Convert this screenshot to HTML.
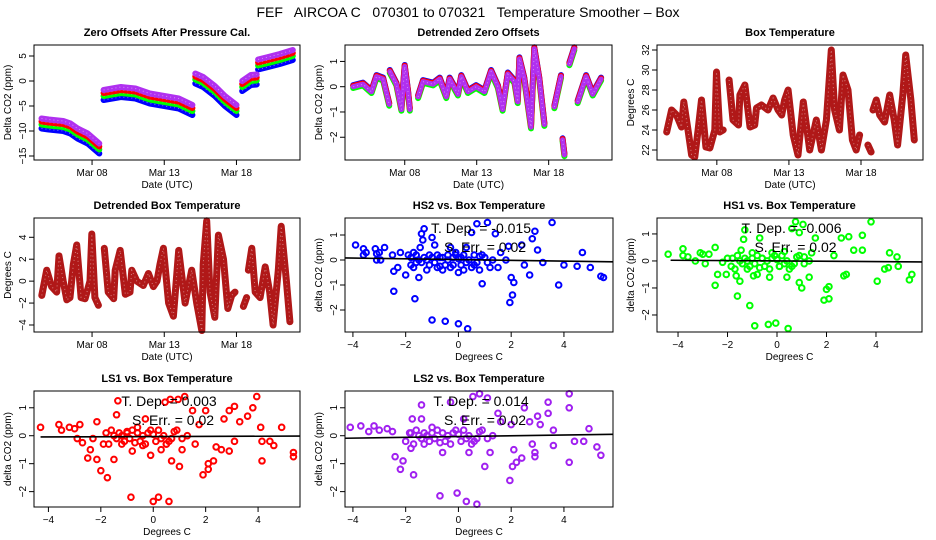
<!DOCTYPE html>
<html><head><meta charset="utf-8">
<style>
html,body{margin:0;padding:0;background:#fff;}
svg{display:block;font-family:"Liberation Sans",Arial,sans-serif;}
</style></head>
<body>
<svg id="chart" width="936" height="540" viewBox="0 0 936 540" xmlns="http://www.w3.org/2000/svg">
<text x="468" y="17" text-anchor="middle" font-size="14" style="white-space:pre">FEF   AIRCOA C   070301 to 070321   Temperature Smoother – Box</text>
</svg>
<script>
// ---------- time-series data ----------
const zeroDays = [4.5,5.0,6.0,6.5,7.0,7.7,8.5,null,8.8,10.0,11.0,12.0,13.0,14.0,14.95,null,15.15,15.7,16.5,17.2,18.0,null,18.4,19.0,19.4,null,19.5,20.2,21.0,21.9];
const zeroMagenta = [-7.5,-7.7,-8.0,-8.5,-9.5,-10.5,-12.5,null,-1.8,-1.2,-1.5,-2.5,-3.0,-3.5,-4.8,null,1.5,0.8,-1.0,-3.0,-4.8,null,0.0,1.2,1.3,null,4.3,4.8,5.4,6.2];
const zeroOffsetRed = [-0.6];
const zeroOffsetGreen = [-1.2];
const zeroOffsetBlue = [-2.0];

const detDays = [4.42,5.1,5.69,6.04,6.5,6.92,null,6.96,7.42,7.77,8.0,8.23,8.35,null,8.93,9.27,9.97,10.43,10.89,11.12,11.7,11.93,12.39,12.96,13.54,14.0,14.47,14.8,15.16,15.62,15.85,15.97,16.31,16.77,17.0,17.35,17.7,null,18.4,18.86,null,18.97,19.09,null,19.44,19.78,null,20.02,20.6,21.06,21.64];
const detVals = [0,0.1,-0.2,0.4,0.3,-0.7,null,0.6,0.1,-0.9,0.8,-0.2,-0.9,null,-0.4,0.2,0.1,0.3,-0.4,0.3,-0.3,0.4,-0.2,0,-0.2,0.6,0,-0.9,0.5,0.2,-0.6,1.1,0.3,-1.6,1.5,0.3,-1.5,null,-0.8,0.4,null,-2.1,-2.7,null,0.9,1.5,null,-0.6,0.4,-0.3,0.3];
const detOffsets = [0.06,-0.05,0.03,0];

const tempDays = [4.52,4.86,5.2,5.55,5.71,6.0,6.25,6.47,6.7,6.94,7.24,7.52,7.86,7.98,8.2,8.44,null,8.85,9.12,9.5,9.6,9.95,10.3,10.63,10.75,11.1,11.55,11.9,12.25,12.5,12.7,12.94,13.3,13.63,14.0,14.44,14.9,15.25,15.6,15.7,15.94,16.17,16.5,16.75,17.1,17.4,17.67,17.9,null,18.48,18.7,null,18.83,19.06,19.3,19.64,19.99,20.3,20.54,20.9,21.1,21.46,21.7];
const tempVals = [23.8,26,25.5,24.3,26.8,24,21.5,21.3,24,27,22.3,22.2,24,29.8,23.8,24,null,29,25,24.5,27.5,28.5,24.3,24.5,26.2,26.5,26,27.2,26,25.5,27,28,23.5,21.5,26.8,22,25,22,25,27,32,26,24,29.5,28,23,22,23.5,null,22.5,21.8,null,26,27,25.5,24.8,27.5,25,22.5,27.5,31.5,27,23];
const dtempDays = [4.52,4.86,5.2,5.55,5.71,6.0,6.25,6.47,6.7,6.94,7.24,7.52,7.86,7.98,8.2,8.44,null,8.85,9.12,9.5,9.6,9.95,10.3,10.63,10.75,11.1,11.55,11.9,12.25,12.5,12.7,12.94,13.3,13.63,14.0,14.44,14.9,15.25,15.6,15.7,15.94,16.17,16.5,16.75,17.1,17.4,17.67,17.9,null,18.48,18.7,null,18.83,19.06,19.3,19.64,19.99,20.3,20.54,20.9,21.1,21.46,21.7];
const dtempVals = [-1.3,1,-0.5,-1,2.3,0,-1.7,-1.5,1.5,3.3,-1.5,-1.6,0,4.3,-1.5,-2.2,null,3,-1,-1.6,1,2.8,-1.2,-1,1,0,-0.4,0.7,-0.5,0,1.5,3,-2,-3.2,2.8,-2,1,-2,-4.5,1.5,5.5,-1,-3.3,4.2,2,-2.5,-1.3,-1,null,-2.3,-1.5,null,1,3,-1,-1.5,1.3,-1,-4,1,5,0,-3.7];

const dateTicks = [8,13,18];
const dateLabels = ['Mar 08','Mar 13','Mar 18'];

// ---------- scatter data ----------
const clusterX = [-1.8,-1.7,-1.6,-1.5,-1.3,-1.2,-1.1,-0.9,-0.8,-0.6,-0.5,-0.4,-0.3,-0.2,-0.1,0.1,0.2,0.4,0.5,0.6,0.7,0.9,1.1,1.3,-1.4,-1.0,-0.7,0.0,0.3,0.8];
const clusterY = [0.1,-0.3,0.2,0.0,0.1,0.0,-0.2,-0.1,0.2,0.1,-0.2,0.0,-0.3,0.1,0.2,-0.2,0.2,0.0,-0.3,-0.2,-0.1,0.2,-0.1,0.0,-0.1,0.1,-0.25,0.05,-0.1,0.15];

const hs2X = [-3.9,-3.6,-3.6,-3.5,-3.15,-3.1,-3.1,-3.0,-2.95,-2.8,-2.5,-2.45,-2.45,-2.3,-2.2,-2.0,-1.9,-1.8,-1.7,-1.65,-1.6,-1.5,-1.45,-1.4,-1.35,-1.3,-1.2,-1.1,-1.0,-1.0,-0.9,-0.8,-0.7,-0.6,-0.5,-0.4,-0.3,-0.2,-0.1,0.0,0.0,0.1,0.2,0.3,0.35,0.5,0.6,0.7,0.8,0.9,1.0,1.1,1.2,1.4,1.5,1.6,1.8,1.9,1.95,2.0,2.05,2.1,2.4,2.5,2.7,2.8,2.9,3.0,3.2,3.55,3.8,4.0,4.5,4.7,5.0,5.4,5.5];
const hs2Y = [0.6,0.45,0.2,0.3,0.45,0.25,0.0,0.3,0.0,0.5,0.2,-0.45,-1.25,-0.3,0.3,-0.6,0.2,-0.2,0.3,-1.55,-0.1,-0.7,0.5,1.05,0.8,1.25,-0.4,0.2,0.9,-2.4,0.6,-0.3,0.1,-0.4,-2.45,0.2,0.5,-0.2,0.3,-0.5,-2.55,0.1,-0.4,0.5,-2.75,1.1,0.2,1.45,-0.4,-0.95,0.1,1.5,-0.3,1.05,-0.3,0.3,0,0.55,-1.7,-0.7,-1.4,-0.9,0.6,-0.2,-0.6,0.85,1.15,0.4,-0.1,1.5,-1.0,-0.2,-0.25,0.3,-0.3,-0.65,-0.7];

const hs1X = [-4.4,-3.8,-3.8,-3.6,-3.3,-3.1,-3.0,-2.9,-2.75,-2.5,-2.5,-2.4,-2.2,-2.05,-2.0,-1.85,-1.65,-1.6,-1.5,-1.45,-1.35,-1.3,-1.2,-1.1,-1.0,-0.95,-0.9,-0.8,-0.7,-0.6,-0.35,-0.3,-0.2,-0.05,0.1,0.3,0.4,0.45,0.6,0.75,0.9,0.9,1.0,1.05,1.1,1.3,1.4,1.55,1.9,2.0,2.1,2.1,2.3,2.6,2.7,2.8,2.9,3.1,3.45,3.45,3.8,4.05,4.35,4.5,4.55,4.85,4.9,5.35,5.45];
const hs1Y = [0.25,0.45,0.2,0.15,0.0,0.3,0.25,-0.1,0.25,0.5,-0.9,-0.5,-0.05,-0.5,0.1,-0.2,-0.55,-1.3,-0.75,0.4,0.8,1.15,-0.3,-1.65,0.3,-0.55,-2.4,-0.5,0.85,0.1,-2.35,-0.6,0.3,-2.3,-0.2,0.35,-0.6,-2.5,1.2,1.45,1.05,-0.8,-1.0,1.35,0.15,-0.6,0.3,0.85,-1.45,-1.05,-1.4,-0.95,0.2,0.85,-0.55,-0.5,0.9,0.4,0.95,0.4,1.45,-0.75,-0.3,-0.25,0.3,0.15,-0.2,-0.7,-0.5];

const ls1X = [-4.3,-3.6,-3.5,-3.2,-3.0,-2.9,-2.8,-2.7,-2.5,-2.4,-2.3,-2.15,-2.15,-2.0,-1.9,-1.75,-1.5,-1.4,-1.35,-1.2,-1.0,-0.85,-0.8,-0.6,-0.4,-0.3,-0.1,0.0,0.2,0.3,0.45,0.5,0.6,0.65,0.7,0.95,1.0,1.2,1.1,1.5,1.6,1.75,1.9,2.0,2.1,2.1,2.3,2.4,2.6,2.7,2.9,2.9,3.1,3.1,3.3,3.6,3.8,3.95,4.1,4.15,4.15,4.45,4.6,4.9,5.35,5.35];
const ls1Y = [0.3,0.4,0.2,0.3,0.25,-0.1,0.4,-0.25,-0.8,-0.5,-0.1,0.5,-0.85,-1.25,-0.3,-1.5,-0.85,0.75,1.25,-0.3,0.15,-2.2,-0.55,0.3,-0.35,0.6,-0.7,-2.35,-2.2,-0.5,1.2,-0.3,-2.35,1.3,-0.9,1.3,-1.1,1.4,-0.5,0.9,-0.3,0.4,-1.4,0.9,-1.0,-1.2,-0.9,-0.4,-0.5,0.6,-0.55,0.9,1.05,-0.2,0.5,0.7,1.0,1.4,0.3,-0.2,-0.9,-0.2,-0.35,0.3,-0.6,-0.75];

const ls2X = [-4.1,-3.7,-3.4,-3.2,-3.0,-2.7,-2.5,-2.4,-2.2,-2.1,-2.0,-1.85,-1.8,-1.75,-1.7,-1.4,-1.4,-1.3,-1.0,-0.7,-0.6,-0.3,-0.05,0.2,0.3,0.4,0.55,0.7,0.8,1.0,1.1,1.2,1.5,1.6,1.95,2.0,2.05,2.1,2.2,2.4,2.5,2.7,2.8,2.9,2.9,3.0,3.1,3.4,3.4,3.6,3.6,4.2,4.2,4.2,4.4,4.75,4.95,5.25,5.4];
const ls2Y = [0.3,0.35,0.15,0.35,0.2,0.25,0.15,-0.75,-1.2,-0.9,-0.2,0.1,-0.45,0.6,-1.4,1.1,0.6,-0.3,0.3,-2.15,-0.6,1.2,-2.05,0.6,-2.35,-0.6,1.4,-2.45,1.5,-1.1,1.35,-0.6,0.8,0.5,-1.6,0.4,-1.1,-0.5,-0.95,-0.8,1.0,0.5,-0.3,-0.6,-0.75,0.7,0.4,1.2,0.8,0.2,-0.35,1.5,1.0,-0.95,-0.2,-0.2,0.25,-0.4,-0.7];

const slopes = [-0.015,-0.006,0.003,0.014];
const intercepts = [0.017,0.0,-0.03,-0.03];
const depLabels = ['T. Dep. = -0.015','T. Dep. = -0.006','T. Dep. = 0.003','T. Dep. = 0.014'];
const errLabels = ['S. Err. = 0.02','S. Err. = 0.02','S. Err. = 0.02','S. Err. = 0.02'];

// ---------- drawing ----------
const NS='http://www.w3.org/2000/svg';
const svg=document.getElementById('chart');
function mk(tag,attrs,parent){const e=document.createElementNS(NS,tag);for(const k in attrs)e.setAttribute(k,attrs[k]);(parent||svg).appendChild(e);return e;}

function makePanel(name,box,xd,yd,title,xlab,ylab){
  const g=mk('g',{});
  
  
  const sx=v=>box[0]+(v-xd[0])/(xd[1]-xd[0])*(box[2]-box[0]);
  const sy=v=>box[3]-(v-yd[0])/(yd[1]-yd[0])*(box[3]-box[1]);
  const t=mk('text',{x:(box[0]+box[2])/2,y:box[1]-9,'text-anchor':'middle','font-size':'11','font-weight':'bold'},g);
  t.textContent=title;
  
  
  const xl=mk('text',{x:(box[0]+box[2])/2,y:box[3]+28,'text-anchor':'middle','font-size':'10'},g);
  xl.textContent=xlab;
  
  
  const cy=(box[1]+box[3])/2;
  const yl=mk('text',{x:box[0]-23,y:cy,'text-anchor':'middle','font-size':'10',transform:`rotate(-90 ${box[0]-23} ${cy})`},g);
  yl.textContent=ylab;
  
  
  const plot=mk('g',{},g);
  
  
  return {g,plot,sx,sy,box};
}
function frame(P){
  const r=mk('rect',{x:P.box[0],y:P.box[1],width:P.box[2]-P.box[0],height:P.box[3]-P.box[1],fill:'none',stroke:'#000','stroke-width':1},P.g);
  
  
}
function xAxis(P,vals,labels){
  vals.forEach((v,i)=>{const x=P.sx(v);
    mk('line',{x1:x,x2:x,y1:P.box[3],y2:P.box[3]+5,stroke:'#000'},P.g);
    const t=mk('text',{x:x,y:P.box[3]+16,'text-anchor':'middle','font-size':'10'},P.g);
    t.textContent=labels[i];
    
    });
}
function yAxis(P,vals){
  vals.forEach(v=>{const y=P.sy(v);
    mk('line',{x1:P.box[0]-5,x2:P.box[0],y1:y,y2:y,stroke:'#000'},P.g);
    const lx=P.box[0]-8;
    const t=mk('text',{x:lx,y:y,'text-anchor':'middle','font-size':'10',transform:`rotate(-90 ${lx} ${y})`},P.g);
    t.textContent=String(v).replace('-','\u2212');
    
    });
}
function series(P,days,vals,off,color,width,name){
  let d='';let pen=false;
  for(let i=0;i<days.length;i++){
    if(days[i]===null||vals[i]===null){pen=false;continue;}
    d+=(pen?'L':'M')+P.sx(days[i]).toFixed(1)+' '+P.sy(vals[i]+off).toFixed(1);pen=true;
  }
  const p=mk('path',{d:d,fill:'none',stroke:color,'stroke-width':width,'stroke-linejoin':'round','stroke-linecap':'round'},P.plot);
  
  
  const p2=mk('path',{d:d,fill:'none',stroke:'#fff','stroke-width':1,'stroke-dasharray':'1 3','stroke-opacity':0.45},P.plot);
  
  
}
function scatter(P,xs,ys,color,idx,name){
  const all=[...xs.map((x,i)=>[x,ys[i]]),...clusterX.map((x,i)=>[x,clusterY[i]])];
  all.forEach(([x,y])=>{
    const c=mk('circle',{cx:P.sx(x),cy:P.sy(y),r:2.8,fill:'none',stroke:color,'stroke-width':2},P.plot);
    
    
  });
  const x0=P.sx(-4.3),x1=P.box[2];
  const xv1=-4.3+(x1-x0)/(P.sx(1)-P.sx(0));
  const l=mk('line',{x1:x0,y1:P.sy(intercepts[idx]+slopes[idx]*-4.3),x2:x1,y2:P.sy(intercepts[idx]+slopes[idx]*xv1),stroke:'#000','stroke-width':1.6},P.plot);
  
  
  const cx=(P.box[0]+P.box[2])/2+2;
  const t1=mk('text',{x:cx,y:P.box[1]+15,'text-anchor':'middle','font-size':'14'},P.g);
  t1.textContent=depLabels[idx];
  
  
  const t2=mk('text',{x:cx+4,y:P.box[1]+34,'text-anchor':'middle','font-size':'14'},P.g);
  t2.textContent=errLabels[idx];
  
  
}

// Panel 1
let P=makePanel('zero-offsets-panel',[34,45,300,160],[3.98,22.4],[-15.8,7.2],'Zero Offsets After Pressure Cal.','Date (UTC)','Delta CO2 (ppm)');
series(P,zeroDays,zeroMagenta,zeroOffsetBlue[0],'#0000ff',6,'hs2-series');
series(P,zeroDays,zeroMagenta,zeroOffsetGreen[0],'#00ff00',6,'hs1-series');
series(P,zeroDays,zeroMagenta,zeroOffsetRed[0],'#ff0000',6,'ls1-series');
series(P,zeroDays,zeroMagenta,0,'#b030f0',6,'ls2-series');
frame(P);xAxis(P,dateTicks,dateLabels);yAxis(P,[5,0,-5,-10,-15]);

// Panel 2
P=makePanel('detrended-zero-panel',[345,45,612,160],[3.85,22.4],[-2.9,1.65],'Detrended Zero Offsets','Date (UTC)','Delta CO2 (ppm)');
series(P,detDays,detVals,detOffsets[0],'#0000ff',6,'hs2-series');
series(P,detDays,detVals,detOffsets[1],'#00ff00',6,'hs1-series');
series(P,detDays,detVals,detOffsets[2],'#ff0000',6,'ls1-series');
series(P,detDays,detVals,detOffsets[3],'#b030f0',5,'ls2-series');
frame(P);xAxis(P,dateTicks,dateLabels);yAxis(P,[1,0,-1,-2]);

// Panel 3
P=makePanel('box-temperature-panel',[657,45,923,160],[3.85,22.3],[21,32.5],'Box Temperature','Date (UTC)','Degrees C');
series(P,tempDays,tempVals,0,'#b01818',7,'box-temp-series');
frame(P);xAxis(P,dateTicks,dateLabels);yAxis(P,[22,24,26,28,30,32]);

// Panel 4
P=makePanel('detrended-box-temp-panel',[34,218,300,332],[3.98,22.4],[-4.64,5.76],'Detrended Box Temperature','Date (UTC)','Degrees C');
series(P,dtempDays,dtempVals,0,'#b01818',7,'detrended-temp-series');
frame(P);xAxis(P,dateTicks,dateLabels);yAxis(P,[-4,-2,0,2,4]);

const sTicks=[-4,-2,0,2,4];
const sLabels=['\u22124','\u22122','0','2','4'];
// Panel 5
P=makePanel('hs2-scatter-panel',[345,218,613,332],[-4.3,5.86],[-2.88,1.68],'HS2 vs. Box Temperature','Degrees C','delta CO2 (ppm)');
scatter(P,hs2X,hs2Y,'#0000ff',0,'hs2');
frame(P);xAxis(P,sTicks,sLabels);yAxis(P,[1,0,-1,-2]);
// Panel 6
P=makePanel('hs1-scatter-panel',[657,218,922,332],[-4.85,5.86],[-2.63,1.59],'HS1 vs. Box Temperature','Degrees C','delta CO2 (ppm)');
scatter(P,hs1X,hs1Y,'#00ff00',1,'hs1');
frame(P);xAxis(P,sTicks,sLabels);yAxis(P,[1,0,-1,-2]);
// Panel 7
P=makePanel('ls1-scatter-panel',[34,391,300,507],[-4.55,5.6],[-2.55,1.6],'LS1 vs. Box Temperature','Degrees C','delta CO2 (ppm)');
scatter(P,ls1X,ls1Y,'#ff0000',2,'ls1');
frame(P);xAxis(P,sTicks,sLabels);yAxis(P,[1,0,-1,-2]);
// Panel 8
P=makePanel('ls2-scatter-panel',[345,391,613,507],[-4.3,5.86],[-2.55,1.6],'LS2 vs. Box Temperature','Degrees C','delta CO2 (ppm)');
scatter(P,ls2X,ls2Y,'#a020f0',3,'ls2');
frame(P);xAxis(P,sTicks,sLabels);yAxis(P,[1,0,-1,-2]);
</script>
</body></html>
